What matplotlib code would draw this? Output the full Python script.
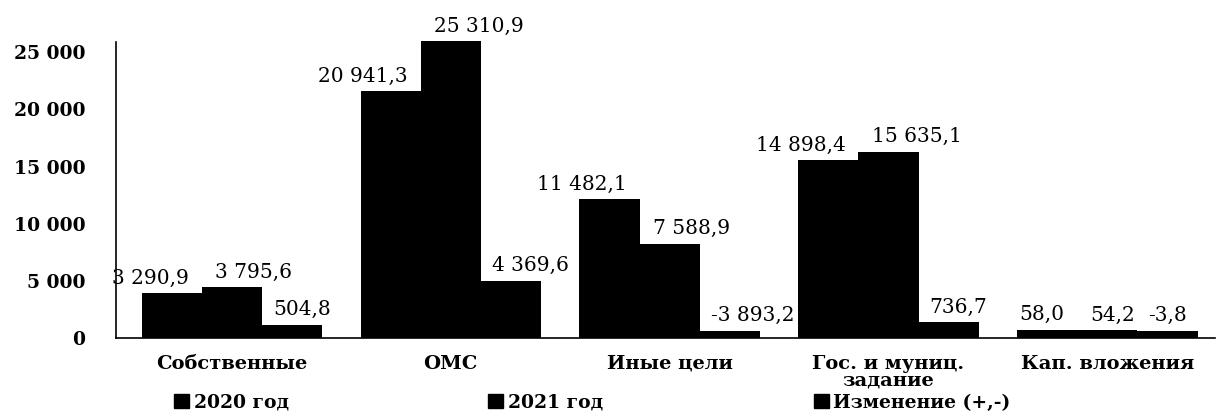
import matplotlib
matplotlib.use("Agg")
import matplotlib.pyplot as plt
from matplotlib.patches import Patch
import numpy as np

categories = ["Собственные", "ОМС", "Иные цели", "Гос. и муниц.\nзадание", "Кап. вложения"]
series_names = ["2020 год", "2021 год", "Изменение (+,-)"]
v2020 = [3290.9, 20941.3, 11482.1, 14898.4, 58.0]
v2021 = [3795.6, 25310.9, 7588.9, 15635.1, 54.2]
vchange = [504.8, 4369.6, -3893.2, 736.7, -3.8]
yticks = [0, 5000, 10000, 15000, 20000, 25000]

def fmt(v):
    s = f"{abs(v):,.1f}".replace(",", " ").replace(".", ",")
    return ("-" if v < 0 else "") + s

plt.rcParams['font.family'] = ['DejaVu Serif', 'DejaVu Sans']

fig = plt.figure(figsize=(12.18, 4.15), dpi=100)
ax = fig.add_axes([0.0952, 0.1855, 0.902, 0.73])

DEPTH = 650  # visual floor thickness of the 3D-style bars
width = 0.275
x = np.arange(len(categories))
offsets = [-width, 0, width]
# label anchoring relative to each bar (style only)
label_ha = ["right", "left", "left"]
label_anchor = [0.5, -0.5, -0.5]   # fraction of width from bar centre
label_shift = [-0.06, 0.06, 0.05]
all_series = [v2020, v2021, vchange]

for s, vals in enumerate(all_series):
    xs = x + offsets[s]
    ax.bar(xs, [DEPTH] * len(vals), width=width, color="black", linewidth=0)
    ax.bar(xs, vals, bottom=DEPTH, width=width, color="black", linewidth=0)
    for xi, v in zip(xs, vals):
        top = DEPTH + max(v, 0)
        ax.annotate(fmt(v), xy=(xi + label_anchor[s] * width + label_shift[s], top),
                    xytext=(0, 4), textcoords="offset points",
                    ha=label_ha[s], va="bottom", fontsize=14.5, color="black")

ax.set_ylim(0, 26500)
ax.set_xlim(-0.53, 4.49)
ax.set_yticks(yticks)
ax.set_yticklabels([f"{t:,}".replace(",", " ") for t in yticks],
                   fontsize=13.5, fontweight="bold")
ax.set_xticks(x)
ax.set_xticklabels(categories, fontsize=14, fontweight="bold", linespacing=0.9)
ax.tick_params(axis="both", length=0)
ax.tick_params(axis="y", pad=22)
ax.tick_params(axis="x", pad=12)
for sp in ["top", "right"]:
    ax.spines[sp].set_visible(False)
ax.spines["left"].set_bounds(0, 25900)
ax.spines["left"].set_linewidth(1.2)
ax.spines["bottom"].set_linewidth(1.2)

leg_x = [0.143, 0.401, 0.668]
for name, lx in zip(series_names, leg_x):
    fig.legend(handles=[Patch(facecolor="black", edgecolor="black")],
               labels=[name], loc="center left", bbox_to_anchor=(lx, 0.03),
               frameon=False, handlelength=0.8, handleheight=0.8,
               handletextpad=0.25, borderpad=0, borderaxespad=0,
               prop={"size": 13.5, "weight": "bold"})

fig.savefig("out.png", dpi=100)
